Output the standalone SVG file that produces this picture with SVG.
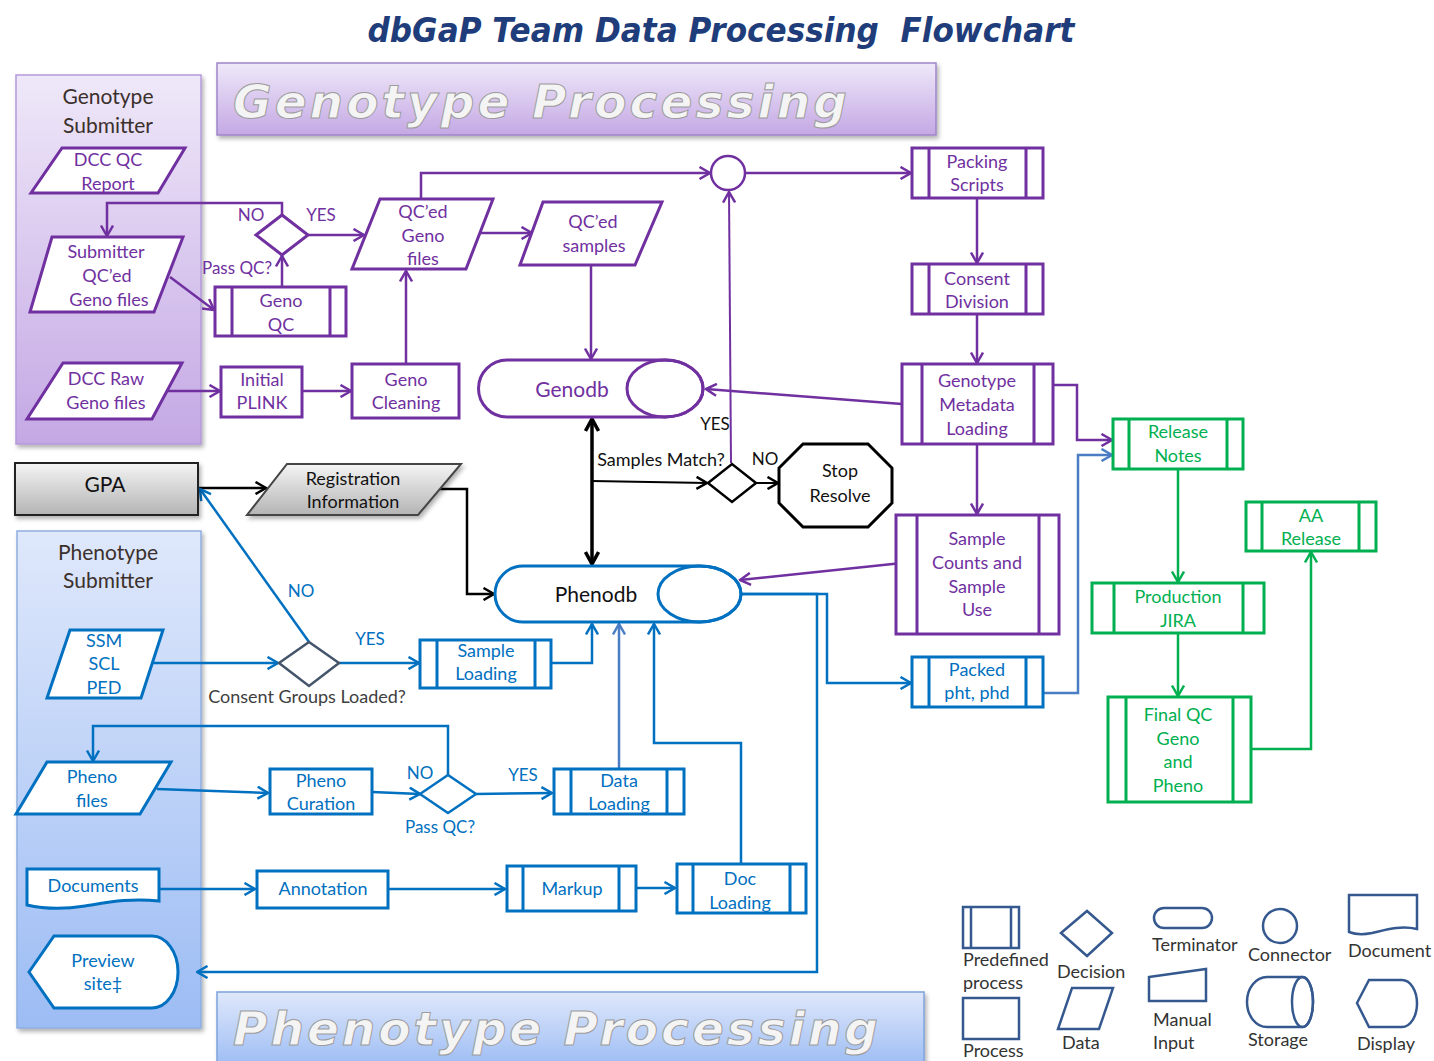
<svg xmlns="http://www.w3.org/2000/svg" width="1434" height="1061" viewBox="0 0 1434 1061">
<style>
text{font-family:Lato,"Open Sans","Liberation Sans",sans-serif;font-size:18px;text-anchor:middle}
.tp{fill:#7030A0}.tb{fill:#0070C0}.tg{fill:#00B050}.tk{fill:#111}.td{fill:#3B302C}.tgr{fill:#404040}
.sm{font-size:17px}
.big{font-size:21px}
.np{fill:#fff;stroke:#7030A0;stroke-width:3}
.nb{fill:#fff;stroke:#0070C0;stroke-width:3}
.ng{fill:#fff;stroke:#00B050;stroke-width:3}
.ip{stroke:#7030A0;stroke-width:2.5;fill:none}
.ib{stroke:#0070C0;stroke-width:2.5;fill:none}
.ig{stroke:#00B050;stroke-width:2.5;fill:none}
.cp{stroke:#7030A0;stroke-width:2.5;fill:none;marker-end:url(#mp)}
.cb{stroke:#0070C0;stroke-width:2.5;fill:none;marker-end:url(#mb)}
.cs{stroke:#4A7DC4;stroke-width:2.5;fill:none;marker-end:url(#ms)}
.cg{stroke:#00B050;stroke-width:2.5;fill:none;marker-end:url(#mg)}
.ck{stroke:#000;stroke-width:2.5;fill:none;marker-end:url(#mk)}
.lg{fill:#fff;stroke:#35598F;stroke-width:2.5}
.lt{fill:#333;text-anchor:start;font-size:18px}
.ban{font-family:"DejaVu Sans",Verdana,sans-serif;font-style:italic;font-weight:bold;font-size:47px;fill:#F4F4F4;stroke:#9C9C9C;stroke-width:1;text-anchor:start}
</style>
<defs>
<linearGradient id="gpur" x1="0" y1="0" x2="0" y2="1"><stop offset="0" stop-color="#EFE8F9"/><stop offset="1" stop-color="#C4A8E4"/></linearGradient>
<linearGradient id="gblu" x1="0" y1="0" x2="0" y2="1"><stop offset="0" stop-color="#DFE8FB"/><stop offset="1" stop-color="#9CBCF4"/></linearGradient>
<linearGradient id="ggry" x1="0" y1="0" x2="0" y2="1"><stop offset="0" stop-color="#F4F4F4"/><stop offset="1" stop-color="#B4B4B4"/></linearGradient>
<filter id="sh" x="-5%" y="-5%" width="115%" height="125%"><feDropShadow dx="2" dy="3" stdDeviation="2" flood-color="#000" flood-opacity="0.3"/></filter>
<marker id="mp" viewBox="0 0 14 14" refX="12.5" refY="7" markerWidth="14" markerHeight="14" orient="auto" markerUnits="userSpaceOnUse"><path d="M2,1 L12.5,7 L2,13" fill="none" stroke="#7030A0" stroke-width="2.5"/></marker>
<marker id="mb" viewBox="0 0 14 14" refX="12.5" refY="7" markerWidth="14" markerHeight="14" orient="auto" markerUnits="userSpaceOnUse"><path d="M2,1 L12.5,7 L2,13" fill="none" stroke="#0070C0" stroke-width="2.5"/></marker>
<marker id="ms" viewBox="0 0 14 14" refX="12.5" refY="7" markerWidth="14" markerHeight="14" orient="auto" markerUnits="userSpaceOnUse"><path d="M2,1 L12.5,7 L2,13" fill="none" stroke="#4A7DC4" stroke-width="2.5"/></marker>
<marker id="mg" viewBox="0 0 14 14" refX="12.5" refY="7" markerWidth="14" markerHeight="14" orient="auto" markerUnits="userSpaceOnUse"><path d="M2,1 L12.5,7 L2,13" fill="none" stroke="#00B050" stroke-width="2.5"/></marker>
<marker id="mk" viewBox="0 0 14 14" refX="12.5" refY="7" markerWidth="14" markerHeight="14" orient="auto" markerUnits="userSpaceOnUse"><path d="M2,1 L12.5,7 L2,13" fill="none" stroke="#000" stroke-width="2.5"/></marker>
<marker id="mk2" viewBox="0 0 16 16" refX="14" refY="8" markerWidth="16" markerHeight="16" orient="auto-start-reverse" markerUnits="userSpaceOnUse"><path d="M2,1.5 L14,8 L2,14.5" fill="none" stroke="#000" stroke-width="3.5"/></marker>
</defs>
<rect width="1434" height="1061" fill="#fff"/>

<text x="721" y="42" xml:space="preserve" textLength="707" lengthAdjust="spacingAndGlyphs" style="font-family:'DejaVu Sans',Verdana,sans-serif;font-style:italic;font-weight:bold;font-size:33px;fill:#1F3D7A">dbGaP Team Data Processing  Flowchart</text>

<!-- panels and banners -->
<g id="genotype-submitter-panel">
<rect x="16" y="75" width="185" height="369" fill="url(#gpur)" stroke="#B49ADB" stroke-width="1.5" filter="url(#sh)"/>
<text class="td big" x="108" y="104">Genotype</text>
<text class="td big" x="108" y="133">Submitter</text>
</g>
<g id="genotype-processing-banner">
<rect x="217" y="63" width="719" height="72" fill="url(#gpur)" stroke="#9F85C9" stroke-width="1.5" filter="url(#sh)"/>
<text class="ban" x="233" y="118" textLength="614" lengthAdjust="spacing">Genotype Processing</text>
</g>
<g id="phenotype-submitter-panel">
<rect x="17" y="531" width="184" height="497" fill="url(#gblu)" stroke="#8FAEE0" stroke-width="1.5" filter="url(#sh)"/>
<text class="td big" x="108" y="560">Phenotype</text>
<text class="td big" x="108" y="588">Submitter</text>
</g>
<g id="phenotype-processing-banner">
<rect x="217" y="992" width="707" height="75" fill="url(#gblu)" stroke="#7EA3DD" stroke-width="1.5" filter="url(#sh)"/>
<text class="ban" x="233" y="1045" textLength="645" lengthAdjust="spacing">Phenotype Processing</text>
</g>

<!-- connectors -->
<g id="connectors">
<path class="cp" d="M282,215 V203 H107 V236"/>
<path class="cp" d="M308,235 H364"/>
<path class="cp" d="M170,277 L214,310"/>
<path class="cp" d="M282,287 V256"/>
<path class="cp" d="M168,391 H220"/>
<path class="cp" d="M302,391 H351"/>
<path class="cp" d="M406,364 V271"/>
<path class="cp" d="M480,233 H532"/>
<path class="cp" d="M591,265 V359"/>
<path class="cp" d="M421,199 V173 H710"/>
<path class="cp" d="M745,173 H911"/>
<path class="cp" d="M977,198 V263"/>
<path class="cp" d="M977,314 V363"/>
<path class="cp" d="M977,444 V514"/>
<path class="cp" d="M902,404 L706,389"/>
<path class="cp" d="M902,563 L740,580"/>
<path class="cp" d="M1044,385 H1077 V440 H1112"/>
<path class="cp" style="stroke-width:2" d="M731,463 L729,192"/>
<path d="M592,419 V564" fill="none" stroke="#000" stroke-width="3.5" marker-start="url(#mk2)" marker-end="url(#mk2)"/>
<path class="ck" style="stroke-width:2" d="M592,481 L707,483"/>
<path class="ck" style="stroke-width:2" d="M756,483 H778"/>
<path class="ck" d="M198,488 H266"/>
<path class="ck" d="M440,489 H467 V594 H494"/>
<path class="cb" d="M309,642 L200,489"/>
<path class="cb" d="M153,663 H278"/>
<path class="cb" d="M339,663 H419"/>
<path class="cb" d="M551,663 H592 V624"/>
<path class="cs" d="M619,769 V624"/>
<path class="cb" d="M741,864 V743 H654 V624"/>
<path class="cb" d="M741,594 H827 V683 H911"/>
<path class="cb" d="M741,594 H817 V972 H197"/>
<path class="cs" d="M1043,693 H1078 V455 H1112"/>
<path class="cb" d="M448,775 V726 H93 V761"/>
<path class="cb" d="M476,794 L552,793"/>
<path class="cb" d="M157,789 L268,793"/>
<path class="cb" d="M372,792 L420,794"/>
<path class="cb" d="M159,889 H255"/>
<path class="cb" d="M388,889 H505"/>
<path class="cb" d="M636,888 H675"/>
<path class="cg" d="M1178,469 V582"/>
<path class="cg" d="M1178,633 V696"/>
<path class="cg" d="M1251,749 H1311 V552"/>
</g>

<!-- genotype nodes -->
<g id="dcc-qc-report">
<polygon class="np" points="62,148 185,148 158,193 31,193"/>
<text class="tp" x="108" y="166">DCC QC</text><text class="tp" x="108" y="190">Report</text>
</g>
<g id="submitter-qced-geno-files">
<polygon class="np" points="52,237 183,237 154,312 30,312"/>
<text class="tp" x="106" y="258">Submitter</text><text class="tp" x="107" y="282">QC’ed</text><text class="tp" x="109" y="306">Geno files</text>
</g>
<g id="dcc-raw-geno-files">
<polygon class="np" points="63,363 182,363 152,419 27,419"/>
<text class="tp" x="106" y="385">DCC Raw</text><text class="tp" x="106" y="409">Geno files</text>
</g>
<g id="geno-pass-qc">
<polygon fill="#fff" stroke="#7030A0" stroke-width="3" points="256,235 282,215 308,235 282,255"/>
<text class="tp sm" x="251" y="221">NO</text>
<text class="tp sm" x="321" y="221">YES</text>
<text class="tp sm" x="237" y="274">Pass QC?</text>
</g>
<g id="geno-qc">
<rect class="np" x="215" y="287" width="131" height="49"/>
<path class="ip" style="stroke-width:3" d="M232,287 V336 M330,287 V336"/>
<text class="tp" x="281" y="307">Geno</text><text class="tp" x="281" y="331">QC</text>
</g>
<g id="initial-plink">
<rect class="np" x="221" y="367" width="81" height="50"/>
<text class="tp" x="262" y="386">Initial</text><text class="tp" x="262" y="409">PLINK</text>
</g>
<g id="geno-cleaning">
<rect class="np" x="352" y="364" width="107" height="54"/>
<text class="tp" x="406" y="386">Geno</text><text class="tp" x="406" y="409">Cleaning</text>
</g>
<g id="qced-geno-files">
<polygon class="np" points="380,199 493,199 466,269 352,269"/>
<text class="tp" x="423" y="218">QC’ed</text><text class="tp" x="423" y="242">Geno</text><text class="tp" x="423" y="265">files</text>
</g>
<g id="qced-samples">
<polygon class="np" points="543,202 662,202 635,265 520,265"/>
<text class="tp" x="593" y="228">QC’ed</text><text class="tp" x="594" y="252">samples</text>
</g>
<g id="connector-circle">
<circle cx="728" cy="173" r="17" fill="#fff" stroke="#7030A0" stroke-width="2.5"/>
</g>
<g id="genodb">
<path class="np" d="M507,360 H665 A38,28.5 0 0 1 665,417 H507 A28.5,28.5 0 0 1 507,360 Z"/>
<ellipse cx="665" cy="388.5" rx="38" ry="28.5" fill="none" stroke="#7030A0" stroke-width="3"/>
<text class="tp big" x="572" y="397">Genodb</text>
</g>
<g id="packing-scripts">
<rect class="np" x="912" y="148" width="131" height="50"/>
<path class="ip" style="stroke-width:3" d="M929,148 V198 M1026,148 V198"/>
<text class="tp" x="977" y="168">Packing</text><text class="tp" x="977" y="191">Scripts</text>
</g>
<g id="consent-division">
<rect class="np" x="912" y="264" width="131" height="50"/>
<path class="ip" style="stroke-width:3" d="M929,264 V314 M1026,264 V314"/>
<text class="tp" x="977" y="285">Consent</text><text class="tp" x="977" y="308">Division</text>
</g>
<g id="genotype-metadata-loading">
<rect class="np" x="902" y="364" width="151" height="80"/>
<path class="ip" style="stroke-width:3" d="M922,364 V444 M1034,364 V444"/>
<text class="tp" x="977" y="387">Genotype</text><text class="tp" x="977" y="411">Metadata</text><text class="tp" x="977" y="435">Loading</text>
</g>
<g id="sample-counts">
<rect class="np" x="896" y="515" width="163" height="119"/>
<path class="ip" style="stroke-width:3" d="M917,515 V634 M1039,515 V634"/>
<text class="tp" x="977" y="545">Sample</text><text class="tp" x="977" y="569">Counts and</text><text class="tp" x="977" y="593">Sample</text><text class="tp" x="977" y="616">Use</text>
</g>

<!-- middle -->
<g id="samples-match">
<polygon fill="#fff" stroke="#000" stroke-width="2.5" points="708,483 732,464 756,483 732,502"/>
<text class="tk" x="661" y="466">Samples Match?</text>
<text class="tk sm" x="715" y="430">YES</text>
<text class="tk sm" x="765" y="465">NO</text>
</g>
<g id="stop-resolve">
<polygon fill="#fff" stroke="#000" stroke-width="3" points="803,444 868,444 892,468 892,503 868,527 803,527 779,503 779,468"/>
<text class="tk" x="840" y="477">Stop</text><text class="tk" x="840" y="502">Resolve</text>
</g>
<g id="gpa">
<rect x="15" y="463" width="183" height="52" fill="url(#ggry)" stroke="#222" stroke-width="2" filter="url(#sh)"/>
<text class="tk big" x="105" y="492">GPA</text>
</g>
<g id="registration-information">
<polygon points="287,464 461,464 418,515 247,515" fill="url(#ggry)" stroke="#444" stroke-width="2" filter="url(#sh)"/>
<text class="tk" x="353" y="485">Registration</text><text class="tk" x="353" y="508">Information</text>
</g>
<g id="phenodb">
<path class="nb" d="M523,566 H699.5 A41.5,28 0 0 1 699.5,622 H523 A28,28 0 0 1 523,566 Z"/>
<ellipse cx="699.5" cy="594" rx="41.5" ry="28" fill="none" stroke="#0070C0" stroke-width="3"/>
<text class="tk big" x="596" y="602">Phenodb</text>
</g>

<!-- phenotype nodes -->
<g id="ssm-scl-ped">
<polygon class="nb" points="70,630 163,630 141,698 47,698"/>
<text class="tb" x="104" y="647">SSM</text><text class="tb" x="104" y="670">SCL</text><text class="tb" x="104" y="694">PED</text>
</g>
<g id="consent-groups-loaded">
<polygon fill="#fff" stroke="#44546A" stroke-width="2.5" points="279,663 309,642 339,663 309,686"/>
<text class="tgr" x="307" y="703">Consent Groups Loaded?</text>
<text class="tb sm" x="301" y="597">NO</text>
<text class="tb sm" x="370" y="645">YES</text>
</g>
<g id="sample-loading">
<rect class="nb" x="420" y="640" width="131" height="48"/>
<path class="ib" style="stroke-width:3" d="M437,640 V688 M535,640 V688"/>
<text class="tb" x="486" y="657">Sample</text><text class="tb" x="486" y="680">Loading</text>
</g>
<g id="pheno-files">
<polygon class="nb" points="47,762 171,762 140,814 16,814"/>
<text class="tb" x="92" y="783">Pheno</text><text class="tb" x="92" y="807">files</text>
</g>
<g id="pheno-curation">
<rect class="nb" x="270" y="769" width="102" height="45"/>
<text class="tb" x="321" y="787">Pheno</text><text class="tb" x="321" y="810">Curation</text>
</g>
<g id="pheno-pass-qc">
<polygon fill="#fff" stroke="#0070C0" stroke-width="2.5" points="420,794 448,775 476,794 448,813"/>
<text class="tb sm" x="420" y="779">NO</text>
<text class="tb sm" x="523" y="781">YES</text>
<text class="tb sm" x="440" y="833">Pass QC?</text>
</g>
<g id="data-loading">
<rect class="nb" x="554" y="769" width="130" height="45"/>
<path class="ib" style="stroke-width:3" d="M571,769 V814 M667,769 V814"/>
<text class="tb" x="619" y="787">Data</text><text class="tb" x="619" y="810">Loading</text>
</g>
<g id="documents">
<path class="nb" d="M27,869 H159 V901 C130,898 110,902 85,906 C60,910 40,908 27,905 Z"/>
<text class="tb" x="93" y="892">Documents</text>
</g>
<g id="annotation">
<rect class="nb" x="257" y="871" width="131" height="37"/>
<text class="tb" x="323" y="895">Annotation</text>
</g>
<g id="markup">
<rect class="nb" x="507" y="866" width="129" height="45"/>
<path class="ib" style="stroke-width:3" d="M523,866 V911 M619,866 V911"/>
<text class="tb" x="572" y="895">Markup</text>
</g>
<g id="doc-loading">
<rect class="nb" x="677" y="864" width="129" height="49"/>
<path class="ib" style="stroke-width:3" d="M693,864 V913 M790,864 V913"/>
<text class="tb" x="740" y="885">Doc</text><text class="tb" x="740" y="909">Loading</text>
</g>
<g id="preview-site">
<path class="nb" d="M29,972 L54,936 H152 A26,36 0 0 1 152,1008 H54 Z"/>
<text class="tb" x="103" y="967">Preview</text><text class="tb" x="103" y="990">site‡</text>
</g>
<g id="packed-pht-phd">
<rect class="nb" x="912" y="657" width="131" height="50"/>
<path class="ib" style="stroke-width:3" d="M929,657 V707 M1026,657 V707"/>
<text class="tb" x="977" y="676">Packed</text><text class="tb" x="977" y="699">pht, phd</text>
</g>

<!-- release nodes -->
<g id="release-notes">
<rect class="ng" x="1113" y="419" width="130" height="50"/>
<path class="ig" style="stroke-width:3" d="M1129,419 V469 M1227,419 V469"/>
<text class="tg" x="1178" y="438">Release</text><text class="tg" x="1178" y="462">Notes</text>
</g>
<g id="aa-release">
<rect class="ng" x="1246" y="502" width="130" height="49"/>
<path class="ig" style="stroke-width:3" d="M1262,502 V551 M1359,502 V551"/>
<text class="tg" x="1311" y="522">AA</text><text class="tg" x="1311" y="545">Release</text>
</g>
<g id="production-jira">
<rect class="ng" x="1092" y="583" width="172" height="50"/>
<path class="ig" style="stroke-width:3" d="M1114,583 V633 M1243,583 V633"/>
<text class="tg" x="1178" y="603">Production</text><text class="tg" x="1178" y="627">JIRA</text>
</g>
<g id="final-qc">
<rect class="ng" x="1108" y="697" width="143" height="105"/>
<path class="ig" style="stroke-width:3" d="M1126,697 V802 M1233,697 V802"/>
<text class="tg" x="1178" y="721">Final QC</text><text class="tg" x="1178" y="745">Geno</text><text class="tg" x="1178" y="768">and</text><text class="tg" x="1178" y="792">Pheno</text>
</g>

<!-- legend -->
<g id="legend">
<rect class="lg" x="963" y="907" width="56" height="41"/>
<path d="M971,907 V948 M1011,907 V948" stroke="#35598F" stroke-width="2.5"/>
<text class="lt" x="963" y="966">Predefined</text><text class="lt" x="963" y="989">process</text>
<rect class="lg" x="963" y="998" width="56" height="41"/>
<text class="lt" x="963" y="1057">Process</text>
<polygon class="lg" points="1061,933 1087,911 1112,933 1087,956"/>
<text class="lt" x="1057" y="978">Decision</text>
<polygon class="lg" points="1072,988 1113,988 1099,1029 1058,1029"/>
<text class="lt" x="1062" y="1049">Data</text>
<rect class="lg" x="1154" y="908" width="58" height="20" rx="10"/>
<text class="lt" x="1152" y="951">Terminator</text>
<polygon class="lg" points="1149,977 1206,969 1206,1001 1149,1001"/>
<text class="lt" x="1153" y="1026">Manual</text><text class="lt" x="1153" y="1049">Input</text>
<circle class="lg" cx="1280" cy="926" r="17"/>
<text class="lt" x="1248" y="961">Connector</text>
<path class="lg" d="M1267,977 H1302.5 A10.5,25 0 0 1 1302.5,1027 H1267 A20,25 0 0 1 1267,977 Z"/>
<ellipse cx="1302.5" cy="1002" rx="10.5" ry="25" fill="none" stroke="#35598F" stroke-width="2.5"/>
<text class="lt" x="1248" y="1046">Storage</text>
<path class="lg" d="M1349,895 H1417 V929 C1400,925 1385,930 1372,933 C1362,935 1354,934 1349,932 Z"/>
<text class="lt" x="1348" y="957">Document</text>
<path class="lg" d="M1357,1003 L1369,980 H1402 A15,23.5 0 0 1 1402,1027 H1369 Z"/>
<text class="lt" x="1357" y="1050">Display</text>
</g>
</svg>
